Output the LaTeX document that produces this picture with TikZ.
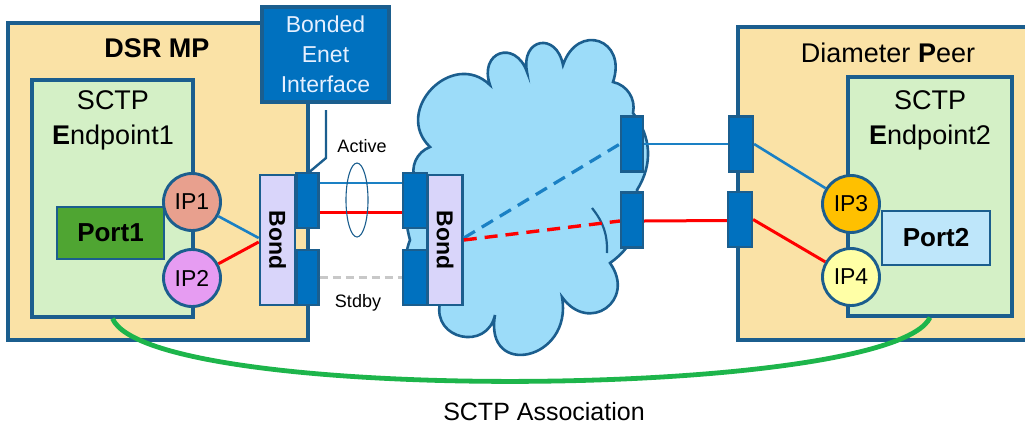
\documentclass[tikz,border=0pt]{standalone}
\usepackage{fontspec}
\setmainfont{Liberation Sans}
\usetikzlibrary{calc}
\definecolor{cB}{HTML}{1B5E8E}
\definecolor{cTan}{HTML}{FAE2A6}
\definecolor{cEp}{HTML}{D4F0C6}
\definecolor{cPortA}{HTML}{4FA532}
\definecolor{cPortB}{HTML}{BEE6FA}
\definecolor{cIPa}{HTML}{E8A08E}
\definecolor{cIPb}{HTML}{E69CF2}
\definecolor{cIPc}{HTML}{FFC000}
\definecolor{cIPd}{HTML}{FFFFA6}
\definecolor{cBond}{HTML}{D9D5FA}
\definecolor{cNic}{HTML}{0071BF}
\definecolor{cCloud}{HTML}{9CDCF9}
\definecolor{cLine}{HTML}{1A80C4}
\definecolor{cGray}{HTML}{C8C8C8}
\definecolor{cGreen}{HTML}{1DB54B}
\definecolor{cNicText}{HTML}{E6F0FF}
\begin{document}
\begin{tikzpicture}[x=1pt,y=1pt,
  bx/.style={rectangle, draw=cB, line width=3.1pt, inner sep=0pt},
  portbox/.style={bx, line width=2.6pt, font=\fontsize{26}{30}\selectfont\bfseries},
  ipc/.style={circle, draw=cB, line width=2.9pt, minimum size=57pt, inner sep=0pt, font=\fontsize{23}{27}\selectfont},
  nic/.style={rectangle, draw=cB, fill=cNic, line width=2.2pt, minimum width=22pt, minimum height=55pt, inner sep=0pt},
  bondbox/.style={bx, fill=cBond, line width=2.6pt, minimum width=35pt, minimum height=130pt, font=\fontsize{23}{27}\selectfont\bfseries},
  title/.style={inner sep=0pt, align=center, font=\fontsize{27}{35}\selectfont},
  small/.style={inner sep=0pt, font=\fontsize{18}{22}\selectfont},
  bluel/.style={draw=cLine, line width=2.6pt},
  redl/.style={draw=red, line width=3pt},
  bluedash/.style={draw=cLine, line width=3.2pt, dash pattern=on 13pt off 8pt},
  reddash/.style={draw=red, line width=3.4pt, dash pattern=on 13pt off 8pt},
  graydash/.style={draw=cGray, line width=2.8pt, dash pattern=on 8pt off 5pt},
  assoc/.style={draw=cGreen, line width=4.8pt},
  callout/.style={draw=cB, line width=2.4pt},
]
\useasboundingbox (0,0) rectangle (1025,-426);
\clip (0,0) rectangle (1025,-426);

% ---------- DSR MP side ----------
\node[bx, fill=cTan, minimum width=300pt, minimum height=317pt] (dsr) at (158,-181.5) {};
\node[title, font=\fontsize{27}{35}\selectfont\bfseries] (dsrlbl) at (157,-48) {DSR MP};
\node[bx, fill=cEp, minimum width=161pt, minimum height=237pt] (ep1) at (112.5,-198.5) {};
\node[title] (ep1lbl) at (113,-120.5) {SCTP\\{\bfseries E}ndpoint1};
\node[portbox, fill=cPortA, minimum width=107pt, minimum height=52pt] (port1) at (110.5,-233) {Port1};

\node[bx, fill=cNic, minimum width=127pt, minimum height=95pt, text=cNicText, align=center,
      font=\fontsize{23}{30}\selectfont] (bonded) at (325.5,-54.5) {Bonded\\Enet\\Interface};

\node[bondbox] (bond1) at (277.5,-240) {\rotatebox{-90}{Bond}};
\node[nic] (r1a) at (307.5,-200.5) {};
\node[nic] (r1b) at (307.5,-277.5) {};

\node[ipc, fill=cIPa] (ip1) at (192,-202) {IP1};
\node[ipc, fill=cIPb] (ip2) at (192,-278) {IP2};
\draw[bluel] (ip1) -- ([yshift=2pt]bond1.west);
\draw[redl] (ip2) -- ([yshift=-2pt]bond1.west);

% callout tail
\coordinate (co1) at (326,-110);
\coordinate (co2) at (326,-158);
\draw[callout] (co1) -- (co2) -- ([xshift=2pt]r1a.north);

% ---------- cloud ----------
\path[draw=cB, fill=cCloud, line width=2.6pt]
  (415,-180) to[bend left=45] (430,-147)
  to[bend left=90, looseness=1.55] (490,-85)
  to[bend left=90, looseness=2.3] (527,-72)
  to[bend left=90, looseness=2.4] (563,-65)
  to[bend left=90, looseness=2.2] (613,-82)
  to[bend left=45] (633,-113)
  to[bend left=35] (637,-190)
  to[bend left=35] (610,-263)
  to[bend left=90, looseness=2] (562,-297)
  to[out=-80, in=-100, looseness=2.4] (495,-315)
  to[bend left=90, looseness=1.7] (440,-303)
  -- (418,-292) to[bend left=30] (410,-240) to[bend left=20] (415,-180) -- cycle;
\draw[cB, line width=2.2pt] (592,-208) to[bend left=20] (607,-253);

\node[bondbox] (bond2) at (445,-240) {\rotatebox{-90}{Bond}};
\node[nic, minimum width=24pt] (r2a) at (415,-200.5) {};
\node[nic, minimum width=24pt] (r2b) at (415,-277.5) {};
\node[nic] (c1) at (632,-144) {};
\node[nic] (c2) at (632,-220) {};

% links between bonds
\draw[bluel] ([yshift=17.5pt]r1a.east) -- ([yshift=17.5pt]r2a.west);
\draw[redl] ([yshift=-11.5pt]r1a.east) -- ([yshift=-11.5pt]r2a.west);
\draw[graydash] (r1b.east) -- (r2b.west);
\draw[cB, line width=1.1pt] (357,-200) ellipse [x radius=11pt, y radius=37pt];
\node[small] (active) at (362,-146) {Active};
\node[small] (stdby) at (358,-303) {Stdby};

\draw[bluedash] ([yshift=2pt]bond2.east) -- (c1.west);
\draw[reddash] (bond2.east) -- ([yshift=-1pt]c2.west);

% ---------- Diameter peer ----------
\node[bx, fill=cTan, minimum width=300pt, minimum height=313pt] (peer) at (888,-183.5) {};
\node[title] (peerlbl) at (888,-53) {Diameter {\bfseries P}eer};
\node[bx, fill=cEp, minimum width=164pt, minimum height=239pt] (ep2) at (930,-196.5) {};
\node[title] (ep2lbl) at (930,-120.5) {SCTP\\{\bfseries E}ndpoint2};
\node[portbox, fill=cPortB, minimum width=108pt, minimum height=54pt] (port2) at (936,-238) {Port2};
\node[nic, minimum width=24pt] (d1) at (741,-144) {};
\node[nic, minimum width=24pt] (d2) at (740,-219.5) {};
\node[ipc, fill=cIPc] (ip3) at (851,-204) {IP3};
\node[ipc, fill=cIPd] (ip4) at (851,-277) {IP4};

\draw[bluel] (c1.east) -- (d1.west);
\draw[redl] ([yshift=-1pt]c2.east) -- ([yshift=-1pt]d2.west);
\draw[bluel] (d1.east) -- (ip3);
\draw[redl] (d2.east) -- (ip4);

% ---------- association ----------
\draw[assoc] (ep1.south) .. controls (150,-405) and (890,-400) .. (ep2.south);
\node[inner sep=0pt, font=\fontsize{25}{30}\selectfont] (assoclbl) at (544,-412) {SCTP Association};
\end{tikzpicture}
\end{document}
